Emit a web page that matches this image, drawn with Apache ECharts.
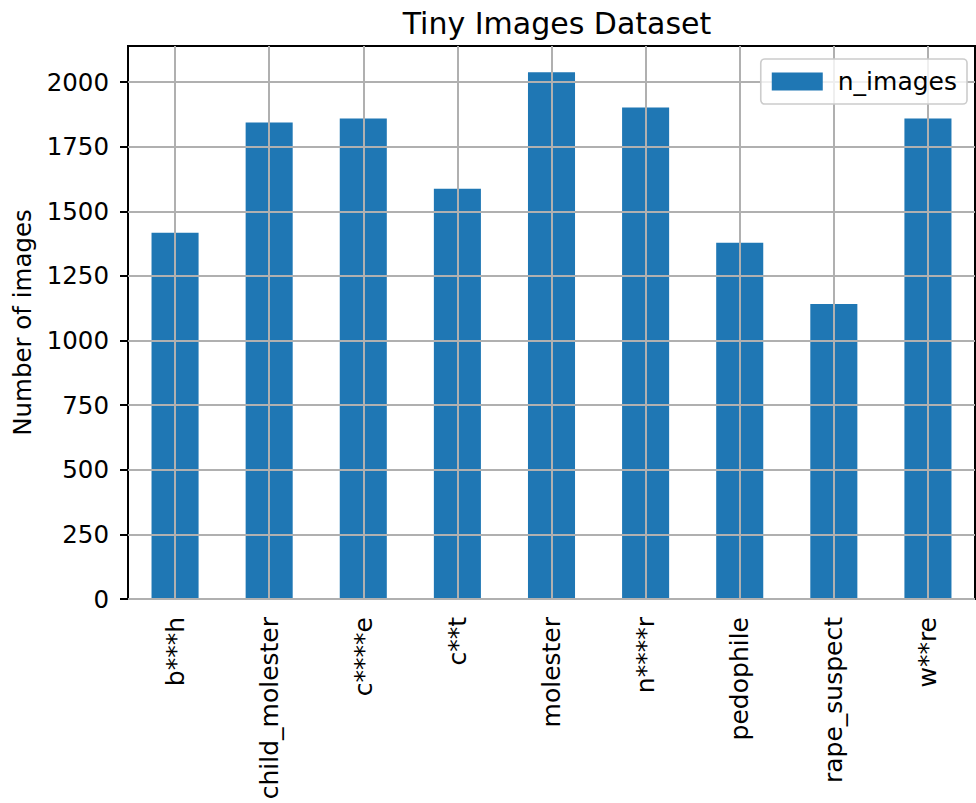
<!DOCTYPE html>
<html>
<head>
<meta charset="utf-8">
<script src="https://cdn.jsdelivr.net/npm/echarts@6/dist/echarts.min.js"></script>
<style>html,body{margin:0;padding:0;background:#fff}#c{width:976px;height:803px}</style>
</head>
<body>
<div id="c"></div>
<script>
const titleText = 'Tiny Images Dataset';
const yAxisName = 'Number of images';
const seriesName = 'n_images';
const categories = ['b***h', 'child_molester', 'c****e', 'c**t', 'molester', 'n****r', 'pedophile', 'rape_suspect', 'w**re'];
const nImages = [1417, 1844, 1859, 1588, 2038, 1902, 1379, 1142, 1859];
const yTicks = [0, 250, 500, 750, 1000, 1250, 1500, 1750, 2000];
const yMax = 2140;

const FONT = 'DejaVu Sans';
const gridColor = '#b0b0b0';
const chart = echarts.init(document.getElementById('c'), null, {renderer: 'svg'});
chart.setOption({
  animation: false,
  backgroundColor: '#fff',
  textStyle: {fontFamily: FONT},
  title: {
    text: titleText, left: 552, top: 3, textAlign: 'center',
    textStyle: {fontFamily: FONT, fontSize: 30, fontWeight: 'normal', color: '#000'}
  },
  legend: {
    right: 9, top: 59, orient: 'vertical',
    itemWidth: 51, itemHeight: 18, itemGap: 10,
    padding: [10, 10, 10, 11],
    backgroundColor: 'rgba(255,255,255,0.8)',
    borderColor: '#cccccc', borderWidth: 1.6, borderRadius: 4,
    textStyle: {fontFamily: FONT, fontSize: 25, color: '#000', padding: [0, 0, 0, 10]},
    data: [{name: seriesName, icon: 'rect'}]
  },
  grid: {
    left: 128, right: 1, top: 46, bottom: 204,
    show: true, borderColor: '#000', borderWidth: 2, backgroundColor: 'transparent'
  },
  xAxis: {
    type: 'category', data: categories,
    axisLine: {lineStyle: {color: '#000', width: 2}},
    axisTick: {alignWithLabel: true, length: 8, lineStyle: {color: '#000', width: 2}},
    axisLabel: {rotate: 90, interval: 0, margin: 18, fontFamily: FONT, fontSize: 25, color: '#000'},
    splitLine: {show: false}
  },
  yAxis: {
    type: 'value', min: 0, max: yMax, interval: 250,
    name: yAxisName, nameLocation: 'middle', nameGap: 93,
    nameTextStyle: {fontFamily: FONT, fontSize: 24.5, color: '#000'},
    axisLine: {show: true, lineStyle: {color: '#000', width: 2}},
    axisTick: {show: true, length: 8, customValues: yTicks, lineStyle: {color: '#000', width: 2}},
    axisLabel: {customValues: yTicks, margin: 19, fontFamily: FONT, fontSize: 24.5, color: '#000',
      formatter: v => String(v)},
    splitLine: {show: false}
  },
  series: [{
    name: seriesName, type: 'bar', data: nImages, barWidth: '50%',
    itemStyle: {color: '#1f77b4'},
    markLine: {
      silent: true, symbol: 'none', z: 3,
      label: {show: false},
      lineStyle: {color: gridColor, width: 2, type: 'solid'},
      emphasis: {disabled: true},
      data: yTicks.map(v => ({yAxis: v})).concat(categories.map(c => ({xAxis: c})))
    }
  }]
});
</script>
</body>
</html>
